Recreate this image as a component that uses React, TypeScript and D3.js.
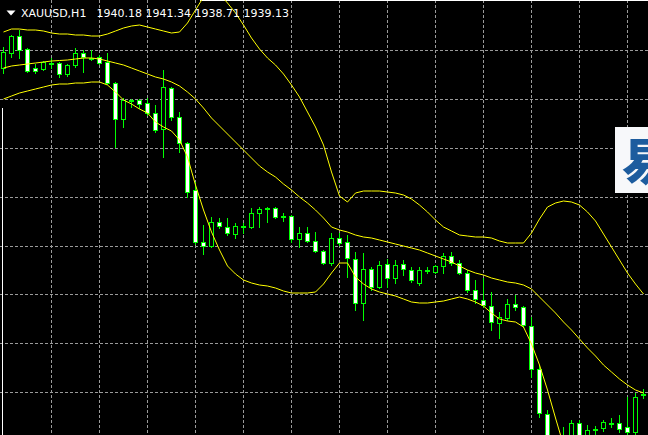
import React from 'react';
import * as d3 from 'd3';

const symbolLabel = 'XAUUSD,H1';
const quoteValues = ['1940.18', '1941.34', '1938.71', '1939.13'];

const opens = [
  1971.7, 1973.2, 1974.9, 1973.6, 1971.7, 1971.6, 1972.2, 1972.2, 1971.1, 1972.0,
  1973.2, 1972.7, 1972.8, 1972.3, 1970.2, 1966.6, 1968.5, 1968.5, 1968.2, 1967.2,
  1965.6, 1969.7, 1966.8, 1964.2, 1959.5, 1954.3, 1953.9, 1956.3, 1955.8, 1955.1,
  1955.8, 1955.8, 1957.2, 1957.7, 1957.7, 1956.9, 1956.9, 1954.6, 1955.2, 1954.4,
  1953.4, 1952.2, 1954.7, 1954.3, 1952.6, 1948.2, 1951.6, 1949.8, 1952.1, 1950.7,
  1952.1, 1951.5, 1950.2, 1951.5, 1951.3, 1951.9, 1952.9, 1952.2, 1951.2, 1949.5,
  1948.5, 1947.9, 1946.2, 1946.7, 1948.1, 1947.8, 1945.9, 1941.6, 1937.1, 1933.7,
  1933.3, 1934.5, 1936.2, 1934.5, 1935.5, 1935.7, 1936.2, 1936.2, 1935.8, 1935.3,
  1939.1,
];
const highs = [
  1973.8, 1975.0, 1975.5, 1973.7, 1972.1, 1972.4, 1972.7, 1972.3, 1972.1, 1973.7,
  1973.5, 1973.5, 1973.0, 1973.2, 1970.3, 1968.7, 1968.6, 1968.6, 1968.7, 1968.0,
  1971.5, 1969.8, 1967.3, 1964.3, 1960.3, 1956.0, 1956.8, 1956.7, 1956.7, 1956.2,
  1956.2, 1957.7, 1957.8, 1957.8, 1957.8, 1957.2, 1957.0, 1955.8, 1955.8, 1955.3,
  1953.5, 1955.2, 1955.2, 1955.0, 1953.3, 1953.2, 1951.8, 1952.4, 1952.6, 1952.5,
  1952.5, 1951.8, 1951.8, 1951.8, 1952.0, 1953.2, 1953.3, 1952.5, 1951.5, 1950.5,
  1950.7, 1949.3, 1947.3, 1948.6, 1949.0, 1947.9, 1946.8, 1942.0, 1937.5, 1934.9,
  1935.8, 1936.5, 1936.5, 1936.0, 1935.9, 1936.5, 1936.7, 1937.0, 1938.8, 1939.2,
  1939.6,
];
const lows = [
  1971.2, 1972.8, 1972.7, 1971.3, 1971.2, 1971.5, 1971.7, 1970.8, 1970.9, 1971.8,
  1971.3, 1972.5, 1972.1, 1970.1, 1963.8, 1965.8, 1967.8, 1967.7, 1967.0, 1965.3,
  1962.8, 1966.5, 1963.3, 1958.8, 1954.1, 1953.1, 1953.8, 1955.7, 1955.0, 1954.7,
  1955.2, 1955.7, 1955.8, 1956.3, 1956.7, 1956.4, 1954.3, 1953.8, 1954.3, 1953.3,
  1952.1, 1952.0, 1954.0, 1950.8, 1947.5, 1946.5, 1949.5, 1949.7, 1949.8, 1950.2,
  1951.0, 1950.3, 1950.0, 1951.2, 1951.2, 1951.2, 1952.0, 1951.1, 1949.3, 1948.2,
  1947.8, 1945.5, 1944.7, 1946.5, 1947.5, 1945.8, 1940.8, 1936.8, 1933.0, 1932.3,
  1932.5, 1934.0, 1933.5, 1933.9, 1935.0, 1935.4, 1935.8, 1935.3, 1934.5, 1935.1,
  1938.7,
];
const closes = [
  1973.3, 1974.9, 1973.5, 1971.4, 1971.4, 1972.3, 1972.1, 1971.1, 1972.0, 1973.2,
  1972.8, 1972.6, 1972.2, 1970.2, 1966.6, 1968.5, 1968.4, 1968.1, 1967.2, 1965.5,
  1969.8, 1966.8, 1964.2, 1959.3, 1954.3, 1953.9, 1956.3, 1955.9, 1955.2, 1955.9,
  1955.9, 1957.2, 1957.6, 1957.6, 1956.8, 1956.8, 1954.6, 1955.2, 1954.4, 1953.4,
  1952.2, 1954.7, 1954.2, 1952.7, 1948.2, 1951.6, 1949.8, 1952.0, 1950.7, 1952.0,
  1951.6, 1950.5, 1951.5, 1951.4, 1951.9, 1952.9, 1952.2, 1951.2, 1949.5, 1948.6,
  1948.0, 1946.3, 1946.8, 1948.1, 1947.8, 1946.0, 1941.6, 1937.2, 1933.7, 1933.3,
  1934.5, 1936.2, 1934.5, 1935.5, 1935.6, 1936.3, 1936.1, 1935.6, 1935.3, 1938.8,
  1939.0,
];

const bbUpper = [
  1975.3, 1975.6, 1975.6, 1975.5, 1975.5, 1975.4, 1975.2, 1975.1, 1975.1, 1975.0,
  1975.0, 1974.9, 1974.9, 1975.1, 1975.4, 1975.7, 1975.9, 1976.0, 1975.8, 1975.6,
  1975.4, 1975.2, 1975.3, 1976.2, 1977.5, 1978.8, 1979.3, 1979.1, 1978.2, 1977.2,
  1976.0, 1974.7, 1973.6, 1972.7, 1972.0, 1971.1, 1970.0, 1968.8, 1967.3, 1965.8,
  1964.0, 1961.3, 1958.9, 1958.3, 1959.2, 1959.4, 1959.4, 1959.4, 1959.3, 1959.2,
  1959.0, 1958.6, 1958.0, 1957.3, 1956.5, 1955.8, 1955.4, 1955.0, 1954.9, 1954.8,
  1954.8, 1954.7, 1954.4, 1954.2, 1954.2, 1954.2, 1955.2, 1956.6, 1957.8, 1958.2,
  1958.4, 1958.3, 1958.0, 1957.3, 1956.4, 1955.1, 1953.8, 1952.5, 1951.2, 1950.1,
  1949.1,
];
const bbMiddle = [
  1971.7, 1971.9, 1972.0, 1972.1, 1972.2, 1972.3, 1972.4, 1972.45, 1972.5, 1972.6,
  1972.7, 1972.7, 1972.6, 1972.4, 1972.2, 1972.0, 1971.7, 1971.4, 1971.1, 1970.8,
  1970.6, 1970.3, 1969.9, 1969.3, 1968.6, 1967.7, 1966.7, 1965.9, 1965.1, 1964.3,
  1963.5, 1962.7, 1961.9, 1961.3, 1960.8, 1960.1, 1959.5, 1958.8, 1958.2, 1957.5,
  1956.7, 1955.8, 1955.5, 1955.3, 1955.0, 1954.8, 1954.7, 1954.5, 1954.3, 1954.1,
  1953.9, 1953.7, 1953.5, 1953.2, 1952.9, 1952.6, 1952.3, 1951.9, 1951.5, 1951.2,
  1951.0, 1950.7, 1950.5, 1950.3, 1950.2, 1950.0, 1949.6, 1948.8, 1948.0, 1947.2,
  1946.3, 1945.5, 1944.6, 1943.7, 1942.9, 1942.0, 1941.3, 1940.6, 1940.0, 1939.5,
  1939.2,
];
const bbLower = [
  1968.6, 1968.9, 1969.2, 1969.4, 1969.6, 1969.8, 1970.0, 1970.1, 1970.1, 1970.2,
  1970.2, 1970.3, 1970.3, 1970.0, 1969.3, 1968.5, 1968.1, 1967.6, 1967.2, 1966.3,
  1965.8, 1965.4, 1964.5, 1962.8, 1960.0, 1957.5, 1955.3, 1953.5, 1951.9, 1951.1,
  1950.5, 1950.2, 1950.0, 1949.9, 1949.7, 1949.4, 1949.2, 1949.2, 1949.2, 1949.3,
  1950.1, 1951.2, 1952.2, 1952.2, 1950.8, 1950.1, 1949.6, 1949.3, 1949.1, 1948.9,
  1948.6, 1948.3, 1948.2, 1948.2, 1948.3, 1948.4, 1948.6, 1948.8, 1948.6, 1948.3,
  1947.9, 1947.2, 1946.6, 1946.4, 1946.3, 1945.8, 1944.1, 1942.0, 1939.5, 1936.7,
  1934.0, 1932.0, 1930.7, 1929.8, 1929.3, 1929.0, 1928.9, 1928.9, 1929.0, 1929.2,
  1929.5,
];

const gridPrices = [1973.4, 1968.52, 1963.64, 1958.76, 1953.88, 1949.0, 1944.12, 1939.24];
const gridBars = [6, 12, 18, 24, 30, 36, 42, 48, 54, 60, 66, 72, 78];

const W = 648;
const H = 435;
const LIME = '#00ff00';
const YELLOW = '#ffff00';
const GRID = '#9a9a9a';

export default function App() {
  const x = d3.scaleLinear().domain([0, 80]).range([3.5, 643.5]);
  const y = d3.scaleLinear().domain([1939.1, 1978.5]).range([394, 0]);
  const line = d3
    .line<number>()
    .x((_, i) => x(i))
    .y((d) => y(d));

  const candles = opens.map((o, i) => {
    const c = closes[i];
    const xc = x(i);
    const top = Math.round(y(Math.max(o, c)));
    const bot = Math.round(y(Math.min(o, c)));
    const hi = Math.round(y(highs[i]));
    const lo = Math.round(y(lows[i]));
    const bull = c > o;
    return (
      <g key={i}>
        <line x1={xc} x2={xc} y1={hi} y2={lo + 1} stroke={LIME} strokeWidth={1} />
        <rect
          x={xc - 2}
          y={top + 0.5}
          width={4}
          height={Math.max(0, bot - top)}
          fill={bull ? '#000' : '#fff'}
          stroke={LIME}
          strokeWidth={1}
        />
      </g>
    );
  });

  return (
    <svg
      width={W}
      height={H}
      style={{ position: 'absolute', left: 0, top: 0, display: 'block', background: '#000' }}
    >
      <defs>
        <clipPath id="plot">
          <rect x={0} y={0} width={W} height={H} />
        </clipPath>
      </defs>
      <rect x={0} y={0} width={W} height={H} fill="#000" />
      <g clipPath="url(#plot)">
        {gridPrices.map((p) => {
          const yy = Math.floor(y(p)) + 0.5;
          return (
            <line key={'h' + p} x1={0} x2={W} y1={yy} y2={yy} stroke={GRID} strokeWidth={1} strokeDasharray="3,2" />
          );
        })}
        {gridBars.map((b) => (
          <line key={'v' + b} x1={x(b)} x2={x(b)} y1={0} y2={H} stroke={GRID} strokeWidth={1} strokeDasharray="3,2" />
        ))}
        <line x1={2.5} x2={2.5} y1={108} y2={H} stroke="#fff" strokeWidth={1} />
        <line x1={200} x2={W} y1={0.5} y2={0.5} stroke="#fff" strokeWidth={1} />
        {candles}
        {[bbUpper, bbMiddle, bbLower].map((s, j) => (
          <path key={'bb' + j} d={line(s) || ''} fill="none" stroke={YELLOW} strokeWidth={1} />
        ))}
      </g>
      <g>
        <path d="M6.5,10.5 L15.5,10.5 L11,15.5 Z" fill="#fff" />
        <text x={21} y={17} fill="#fff" fontFamily="DejaVu Sans" fontSize={11}>
          {symbolLabel}
        </text>
        <text x={96.5} y={17} fill="#fff" fontFamily="DejaVu Sans" fontSize={11}>
          {quoteValues.join(' ')}
        </text>
      </g>
      <g>
        <clipPath id="wm">
          <rect x={615} y={127} width={33} height={66} />
        </clipPath>
        <rect x={615} y={127} width={40} height={66} fill="#f7f8fa" />
        <text
          x={622}
          y={180}
          clipPath="url(#wm)"
          fill="#1d5c9e"
          fontFamily="Noto Sans CJK SC"
          fontWeight={900}
          fontSize={50}
        >
          易
        </text>
      </g>
    </svg>
  );
}
